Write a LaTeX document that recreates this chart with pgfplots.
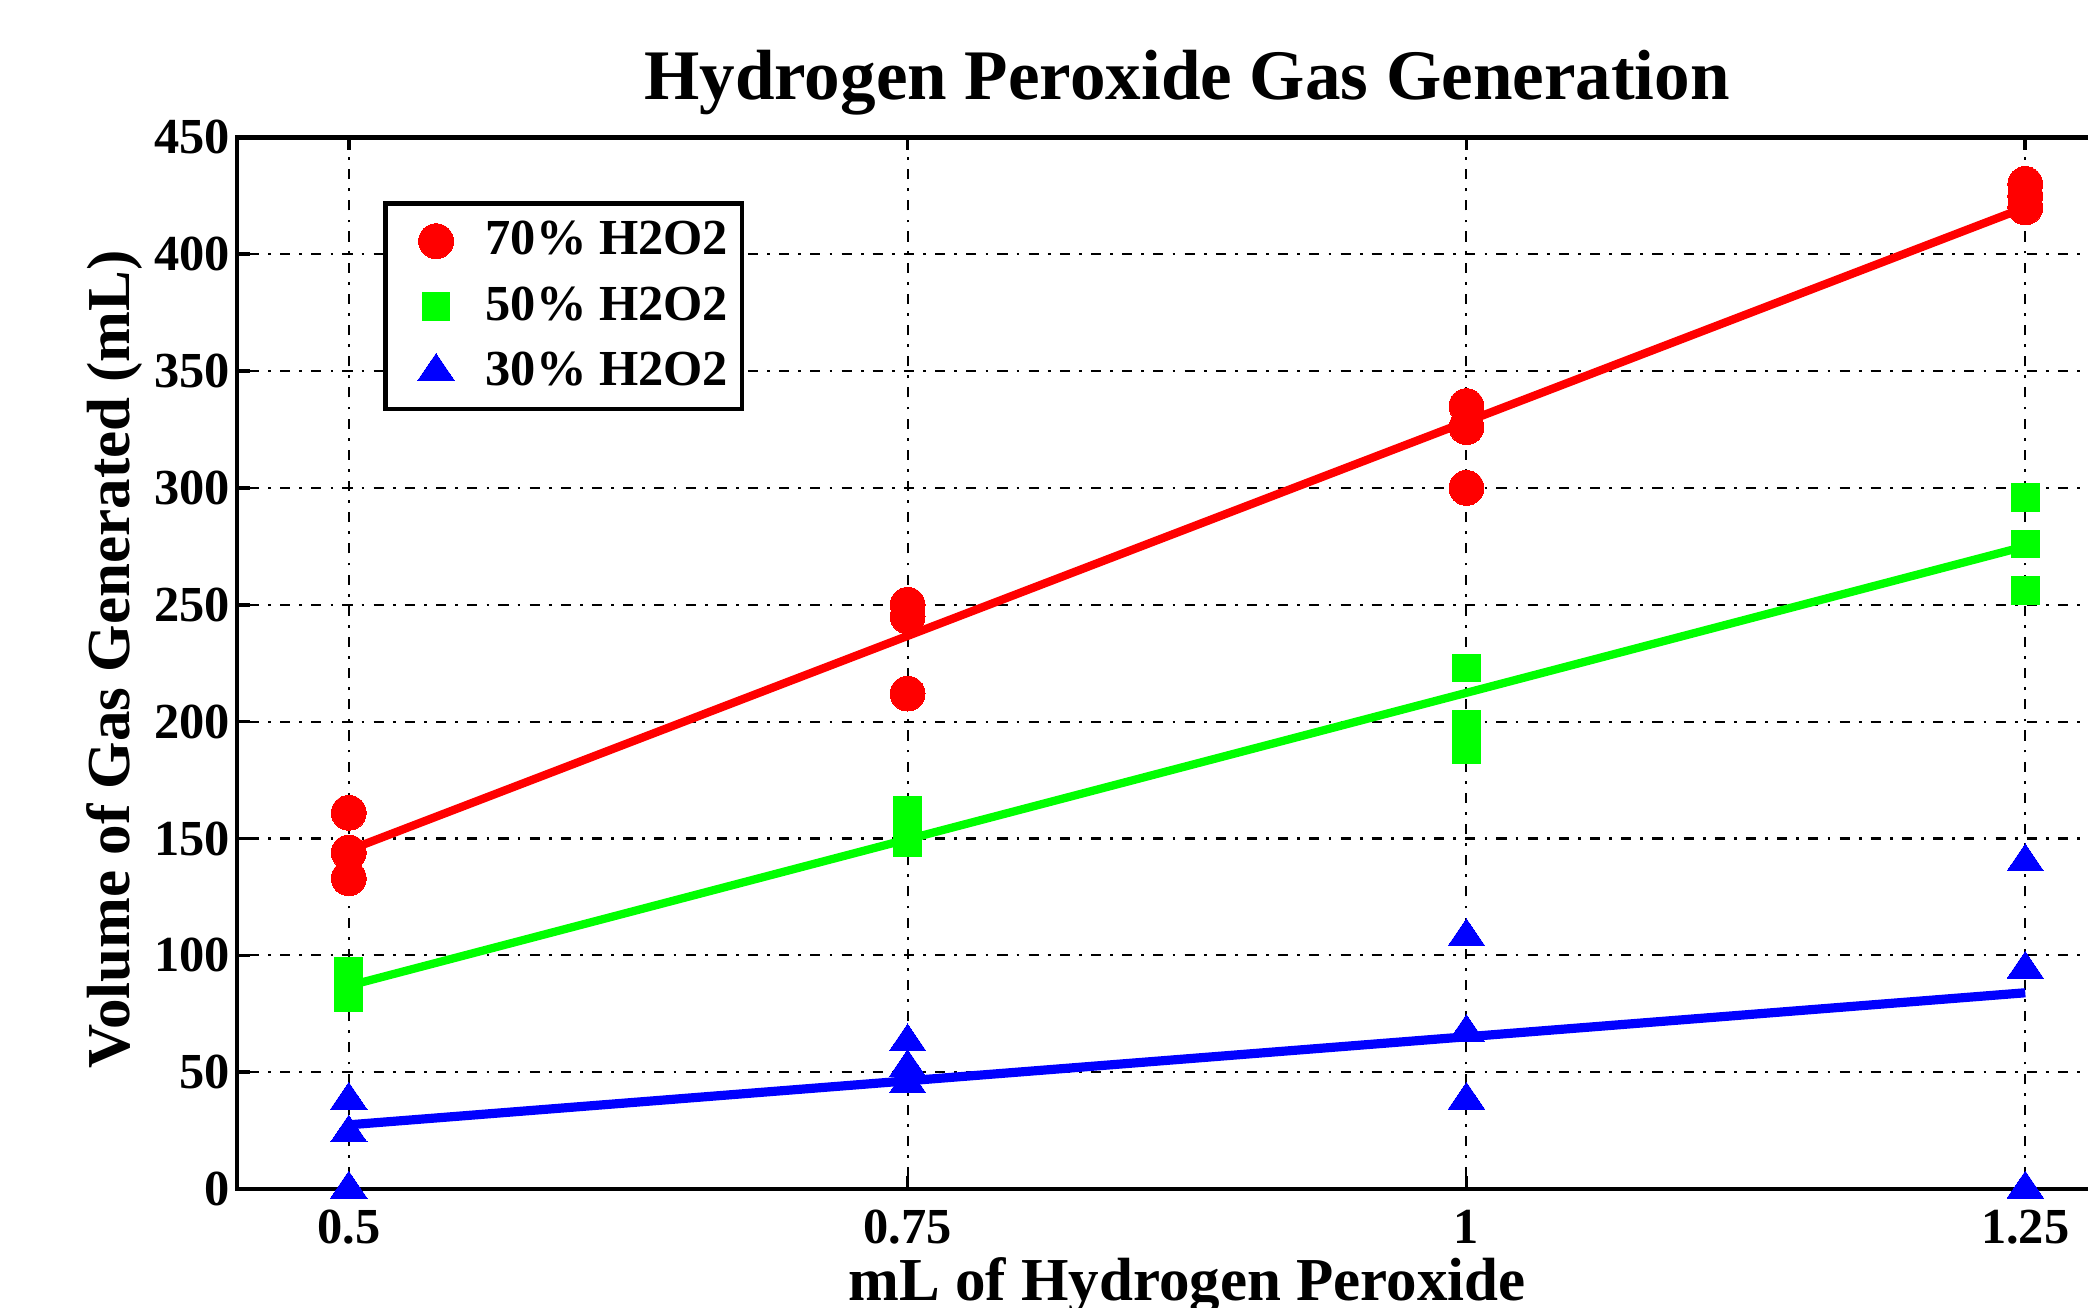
\documentclass[border=0pt]{standalone}
\usepackage{fontspec}
\setmainfont{Liberation Serif}
\usepackage{pgfplots}
\pgfplotsset{compat=1.18}
\definecolor{mred}{rgb}{1,0,0}
\definecolor{mgreen}{rgb}{0,1,0}
\definecolor{mblue}{rgb}{0,0,1}
\begin{document}
\begin{tikzpicture}
\useasboundingbox (-1.816cm,-0.908cm) rectangle (14.184cm,9.112cm);
\clip (-1.816cm,-0.908cm) rectangle (14.184cm,9.112cm);
\begin{axis}[
  at={(0,0)}, anchor=south west,
  scale only axis, width=14.56cm, height=8.06cm,
  xmin=0.45, xmax=1.3, ymin=0, ymax=450,
  xtick={0.5,0.75,1,1.25}, xticklabels={0.5,0.75,1,1.25},
  ytick={0,50,100,150,200,250,300,350,400,450},
  tick align=inside, major tick length=0.1cm,
  tick style={black, line width=0.8pt},
  grid=major,
  grid style={black, line width=0.45pt, dash pattern=on 0.6pt off 2pt on 2.2pt off 2pt},
  axis line style={black, line width=1pt},
  /pgf/number format/assume math mode=true,
  ticklabel style={font=\bfseries\fontsize{11}{13}\selectfont},
  xticklabel style={yshift=-1pt},
  yticklabel style={xshift=2pt},
  title={Hydrogen Peroxide Gas Generation},
  title style={font=\bfseries\fontsize{15.5}{18}\selectfont, at={(axis description cs:0.5,1.0098)}, anchor=base},
  xlabel={mL of Hydrogen Peroxide},
  xlabel style={font=\bfseries\fontsize{13.3}{16}\selectfont, at={(axis description cs:0.5,-0.1063)}, anchor=base},
  ylabel={Volume of Gas Generated (mL)},
  ylabel style={font=\bfseries\fontsize{13.3}{16}\selectfont, at={(axis description cs:-0.0565,0.5038)}, anchor=base},
  legend style={at={(0.0771,0.9392)}, anchor=north west, draw=black, line width=1pt,
    inner xsep=3pt, inner ysep=3.2pt,
    font=\bfseries\fontsize{11}{13}\selectfont,
    nodes={inner sep=0pt, text height=8pt, text depth=2pt},
    row sep=4.2pt},
  legend cell align=left,
  legend image code/.code={\path[draw=none] (0cm,0cm) -- (0.66cm,0cm); \draw[#1] plot coordinates {(0.28cm,0cm)};},
]
\addplot[only marks, mark=*, mark size=3.8pt, mark options={fill=mred, draw=mred, line width=0pt}] coordinates {
  (0.5,161) (0.5,144) (0.5,133)
  (0.75,250) (0.75,245) (0.75,212)
  (1,335) (1,326) (1,300)
  (1.25,430) (1.25,425) (1.25,420)
};
\addlegendentry{70\% H2O2}
\addplot[only marks, mark=square*, mark size=3.0pt, mark options={fill=mgreen, draw=mgreen, line width=0pt}] coordinates {
  (0.5,93) (0.5,87) (0.5,82)
  (0.75,162) (0.75,155) (0.75,148)
  (1,223) (1,199) (1,188)
  (1.25,296) (1.25,276) (1.25,256)
};
\addlegendentry{50\% H2O2}
\addplot[only marks, mark=triangle*, mark size=4.6pt, mark options={fill=mblue, draw=mblue, line width=0pt, yscale=0.85}] coordinates {
  (0.5,38) (0.5,24) (0.5,0)
  (0.75,63) (0.75,52) (0.75,45)
  (1,108) (1,67) (1,38)
  (1.25,140) (1.25,94) (1.25,0)
};
\addlegendentry{30\% H2O2}
\addplot[forget plot, mred, line width=1.8pt, no marks] coordinates {(0.5,145) (1.25,420)};
\addplot[forget plot, mgreen, line width=1.8pt, no marks] coordinates {(0.5,87) (1.25,275)};
\addplot[forget plot, mblue, line width=2pt, no marks] coordinates {(0.5,27.5) (1.25,84)};
\end{axis}
\end{tikzpicture}
\end{document}
